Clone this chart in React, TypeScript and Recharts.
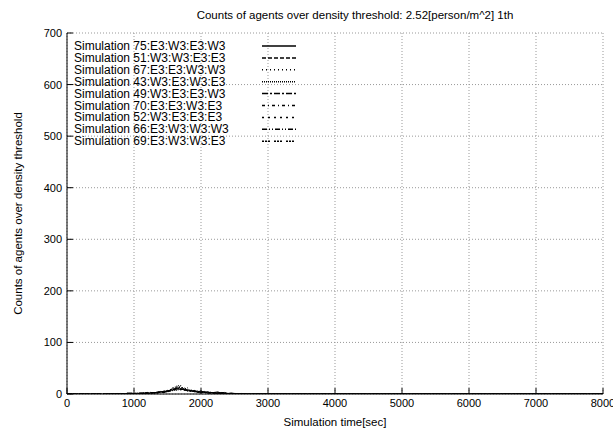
import React from 'react';
import { LineChart, Line, XAxis, YAxis, CartesianGrid, Legend } from 'recharts';

const TITLE = 'Counts of agents over density threshold: 2.52[person/m^2] 1th';
const X_LABEL = 'Simulation time[sec]';
const Y_LABEL = 'Counts of agents over density threshold';

const TIMES = [
  0, 600, 650, 700, 750, 800, 850, 900, 950, 1000, 1050, 1100, 1150, 1200, 1250, 1300,
  1350, 1400, 1450, 1500, 1550, 1600, 1650, 1700, 1750, 1800, 1850, 1900, 1950, 2000,
  2050, 2100, 2150, 2200, 2250, 2300, 2350, 2400, 2450, 2500, 2550, 2600, 2650, 2700,
  2750, 2800, 8000,
];
const X_TICKS = [0, 1000, 2000, 3000, 4000, 5000, 6000, 7000, 8000];
const Y_TICKS = [0, 100, 200, 300, 400, 500, 600, 700];

const SERIES_NAMES = [
  'Simulation 75:E3:W3:E3:W3',
  'Simulation 51:W3:W3:E3:E3',
  'Simulation 67:E3:E3:W3:W3',
  'Simulation 43:W3:E3:W3:E3',
  'Simulation 49:W3:E3:E3:W3',
  'Simulation 70:E3:E3:W3:E3',
  'Simulation 52:W3:E3:E3:E3',
  'Simulation 66:E3:W3:W3:W3',
  'Simulation 69:E3:W3:W3:E3',
];

const S75 = [0, 0, 0, 1, 0, 1, 0, 1, 2, 1, 0, 1, 2, 1, 2, 3, 2, 4, 3, 5, 7, 9, 12, 8, 10, 6, 7, 5, 4, 6, 3, 4, 2, 3, 4, 2, 3, 1, 2, 1, 0, 1, 0, 0, 0, 0, 0];
const S51 = [0, 0, 0, 0, 1, 0, 0, 2, 1, 0, 1, 2, 1, 3, 2, 2, 4, 3, 6, 5, 8, 11, 9, 17, 7, 9, 5, 6, 4, 3, 5, 2, 3, 2, 1, 3, 2, 1, 0, 1, 1, 0, 0, 0, 0, 0, 0];
const S67 = [0, 0, 1, 0, 0, 1, 0, 0, 1, 2, 1, 0, 2, 2, 3, 1, 3, 5, 4, 7, 6, 10, 19, 9, 8, 12, 6, 4, 5, 4, 2, 3, 4, 1, 2, 1, 2, 0, 1, 0, 0, 0, 1, 0, 0, 0, 0];
const S43 = [0, 0, 0, 0, 0, 0, 1, 0, 0, 1, 2, 1, 1, 2, 1, 3, 2, 3, 5, 4, 6, 8, 7, 11, 9, 7, 8, 5, 6, 3, 4, 3, 2, 3, 1, 2, 1, 1, 0, 1, 0, 0, 0, 0, 0, 0, 0];
const S49 = [0, 0, 0, 1, 0, 0, 0, 1, 0, 1, 0, 2, 1, 2, 3, 2, 4, 3, 4, 6, 9, 7, 16, 10, 8, 6, 5, 7, 3, 4, 3, 2, 1, 2, 3, 1, 1, 0, 1, 0, 0, 1, 0, 0, 0, 0, 0];
const S70 = [0, 0, 0, 0, 0, 1, 0, 0, 1, 0, 1, 1, 2, 1, 2, 3, 3, 4, 5, 7, 5, 8, 11, 14, 7, 8, 6, 5, 4, 5, 3, 3, 2, 2, 1, 2, 0, 1, 0, 0, 0, 0, 0, 0, 0, 0, 0];
const S52 = [0, 0, 0, 0, 1, 0, 1, 0, 0, 1, 1, 0, 1, 3, 2, 2, 3, 2, 4, 5, 7, 9, 10, 8, 13, 7, 7, 4, 5, 3, 4, 2, 3, 1, 2, 1, 1, 0, 1, 1, 0, 0, 0, 0, 0, 0, 0];
const S66 = [0, 0, 0, 0, 0, 0, 0, 1, 1, 0, 2, 1, 1, 2, 1, 2, 3, 5, 3, 6, 8, 15, 9, 10, 9, 6, 5, 6, 5, 4, 2, 4, 2, 3, 2, 1, 2, 1, 0, 0, 1, 0, 0, 0, 0, 0, 0];
const S69 = [0, 0, 0, 0, 0, 0, 0, 0, 1, 1, 0, 1, 2, 1, 3, 2, 2, 3, 4, 5, 6, 7, 10, 9, 8, 7, 6, 5, 3, 4, 3, 2, 3, 2, 1, 1, 0, 1, 0, 0, 0, 0, 0, 0, 0, 0, 0];

const SERIES_VALUES = [S75, S51, S67, S43, S49, S70, S52, S66, S69];
const SERIES_DASH = ['', '4 2', '1 3', '1 1', '6 2 2 2', '3 3 1 3', '2 4', '5 2 1 2 1 2', '2 1 2 1 2 4'];

const FONT = '"Liberation Sans", Arial, Helvetica, sans-serif';
const TEXT_SIZE = 11.5;

const data = TIMES.map((t, i) => {
  const row: Record<string, number> = { t };
  SERIES_VALUES.forEach((arr, k) => {
    row['s' + k] = arr[i];
  });
  return row;
});

const BottomTick = (p: any) => (
  <g>
    <line x1={p.x} y1={p.y} x2={p.x} y2={p.y - 6} stroke="#000" />
    <text x={p.x} y={p.y + 13} textAnchor="middle" fontSize={11} fill="#000" fontFamily={FONT}>
      {p.payload.value}
    </text>
  </g>
);
const TopTick = (p: any) => <line x1={p.x} y1={p.y} x2={p.x} y2={p.y + 6} stroke="#000" />;
const LeftTick = (p: any) => (
  <g>
    <line x1={p.x} y1={p.y} x2={p.x + 6} y2={p.y} stroke="#000" />
    <text x={p.x - 5} y={p.y + 4} textAnchor="end" fontSize={11} fill="#000" fontFamily={FONT}>
      {p.payload.value}
    </text>
  </g>
);
const RightTick = (p: any) => <line x1={p.x} y1={p.y} x2={p.x - 6} y2={p.y} stroke="#000" />;

const LegendBox = () => (
  <svg width={240} height={112} style={{ display: 'block', overflow: 'visible' }}>
    {SERIES_NAMES.map((name, i) => {
      const y = 8 + i * 11.9;
      return (
        <g key={name}>
          <text x={6} y={y + 4} fontSize={12} fill="#000" fontFamily={FONT}>
            {name}
          </text>
          <line x1={194} x2={228} y1={y} y2={y} stroke="#000" strokeWidth={1.5} strokeDasharray={SERIES_DASH[i] || undefined} />
        </g>
      );
    })}
  </svg>
);

const YLabel = (p: any) => {
  const vb = p.viewBox || { x: 0, y: 33, width: 67, height: 361 };
  const cx = 18;
  const cy = vb.y + vb.height / 2;
  return (
    <text x={cx} y={cy} transform={`rotate(-90 ${cx} ${cy})`} textAnchor="middle" dominantBaseline="central" fontSize={TEXT_SIZE} fill="#000" fontFamily={FONT}>
      {Y_LABEL}
    </text>
  );
};
const XLabel = (p: any) => {
  const vb = p.viewBox || { x: 67, y: 394, width: 536, height: 34 };
  return (
    <text x={vb.x + vb.width / 2} y={vb.y + 32} textAnchor="middle" fontSize={TEXT_SIZE} fill="#000" fontFamily={FONT}>
      {X_LABEL}
    </text>
  );
};

export default function App() {
  return (
    <div style={{ position: 'absolute', left: 0, top: 0, width: 613, height: 428, background: '#fff', fontFamily: FONT }}>
      <div
        style={{
          position: 'absolute',
          left: 355,
          top: 8,
          transform: 'translateX(-50%)',
          whiteSpace: 'nowrap',
          fontSize: TEXT_SIZE,
          lineHeight: '14px',
          color: '#000',
          zIndex: 2,
        }}
      >
        {TITLE}
      </div>
      <LineChart width={613} height={428} data={data} margin={{ top: 33, right: 10, bottom: 0, left: 0 }}>
        <CartesianGrid xAxisId="b" yAxisId="l" stroke="#999" strokeDasharray="1 2" />
        <XAxis
          xAxisId="b"
          dataKey="t"
          type="number"
          domain={[0, 8000]}
          allowDataOverflow
          ticks={X_TICKS}
          height={34}
          tickSize={0}
          tickMargin={0}
          tickLine={false}
          axisLine={{ stroke: '#000' }}
          tick={BottomTick}
          interval={0}
          label={{ content: XLabel }}
        />
        <XAxis
          xAxisId="t"
          orientation="top"
          dataKey="t"
          type="number"
          domain={[0, 8000]}
          allowDataOverflow
          ticks={X_TICKS}
          height={0}
          tickSize={0}
          tickMargin={0}
          tickLine={false}
          axisLine={{ stroke: '#000' }}
          tick={TopTick}
          interval={0}
        />
        <YAxis
          yAxisId="l"
          type="number"
          domain={[0, 700]}
          allowDataOverflow
          ticks={Y_TICKS}
          width={67}
          tickSize={0}
          tickMargin={0}
          tickLine={false}
          axisLine={{ stroke: '#000' }}
          tick={LeftTick}
          interval={0}
          label={{ content: YLabel }}
        />
        <YAxis
          yAxisId="r"
          orientation="right"
          type="number"
          domain={[0, 700]}
          allowDataOverflow
          ticks={Y_TICKS}
          width={0}
          tickSize={0}
          tickMargin={0}
          tickLine={false}
          axisLine={{ stroke: '#000' }}
          tick={RightTick}
          interval={0}
        />
        <Legend
          layout="vertical"
          align="center"
          verticalAlign="middle"
          wrapperStyle={{ position: 'absolute', left: 68, top: 38, width: 240, height: 112 }}
          content={() => <LegendBox />}
        />
        {SERIES_NAMES.map((name, k) => (
          <Line
            key={name}
            name={name}
            xAxisId="b"
            yAxisId="l"
            dataKey={'s' + k}
            type="linear"
            stroke="#000"
            strokeWidth={1}
            strokeDasharray={SERIES_DASH[k] || undefined}
            dot={false}
            activeDot={false}
            isAnimationActive={false}
          />
        ))}
      </LineChart>
    </div>
  );
}
